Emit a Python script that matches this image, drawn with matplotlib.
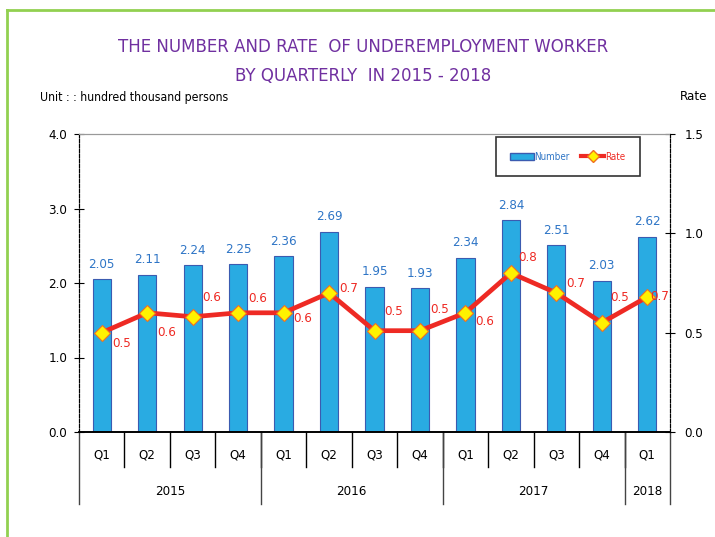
import numpy as np
import matplotlib.pyplot as plt
from matplotlib.lines import Line2D
from matplotlib.patches import Patch
import matplotlib.transforms as mtransforms

# datos
quarters = ['Q1', 'Q2', 'Q3', 'Q4', 'Q1', 'Q2', 'Q3', 'Q4', 'Q1', 'Q2', 'Q3', 'Q4', 'Q1']
years = ['2015', '2016', '2017', '2018']
quarters_per_year = [4, 4, 4, 1]
number = [2.05, 2.11, 2.24, 2.25, 2.36, 2.69, 1.95, 1.93, 2.34, 2.84, 2.51, 2.03, 2.62]
rate = [0.50, 0.60, 0.58, 0.60, 0.60, 0.70, 0.51, 0.51, 0.60, 0.80, 0.70, 0.55, 0.68]
rate_labels = ['0.5', '0.6', '0.6', '0.6', '0.6', '0.7', '0.5', '0.5', '0.6', '0.8', '0.7', '0.5', '0.7']

# offsets de etiquetas de tasa (puntos)
rate_off = [(14, -8), (14, -14), (14, 14), (14, 10), (14, -4), (14, 3),
            (14, 14), (14, 15), (14, -6), (12, 11), (14, 7), (13, 18), (9, 0)]

plt.rcParams['font.family'] = ['DejaVu Sans']
plt.rcParams['font.stretch'] = 'condensed'

fig = plt.figure(figsize=(7.15, 5.37), dpi=100)
ax = fig.add_axes([79/715, 1-432/537, (670-79)/715, 298/537])
ax2 = ax.twinx()

x = np.arange(len(number))
bar_blue = '#29ABE2'
lab_blue = '#2E75C6'
red = '#EE2A24'

ax.bar(x, number, width=0.4, color=bar_blue, edgecolor='#3B5BB0', linewidth=0.8, zorder=2)
for xi, v in zip(x, number):
    ax.annotate(f'{v:.2f}', (xi, v), xytext=(0, 6), textcoords='offset points',
                ha='center', va='bottom', color=lab_blue, fontsize=9.5)

ax2.plot(x, rate, color=red, linewidth=3.4, marker='D', markersize=8,
         markerfacecolor='#FFF200', markeredgecolor='#F07020', markeredgewidth=0.8, zorder=3)
for xi, v, t, off in zip(x, rate, rate_labels, rate_off):
    ax2.annotate(t, (xi, v), xytext=off, textcoords='offset points',
                 ha='center', va='center', color=red, fontsize=9.5)

ax.set_xlim(-0.5, 12.5)
ax.set_ylim(0, 4.0)
ax2.set_ylim(0, 1.5)
ax.set_yticks([0, 1, 2, 3, 4])
ax.set_yticklabels(['0.0', '1.0', '2.0', '3.0', '4.0'], fontsize=9.5)
ax2.set_yticks([0, 0.5, 1.0, 1.5])
ax2.set_yticklabels(['0.0', '0.5', '1.0', '1.5'], fontsize=9.5)
ax.tick_params(axis='y', direction='inout', length=7, width=0.8, pad=5)
ax2.tick_params(axis='y', direction='inout', length=7, width=0.8, pad=7)
ax.set_xticks([])

for a in (ax, ax2):
    a.spines['top'].set_linestyle((0, (1, 1)))
    a.spines['top'].set_color('#999999')
    a.spines['left'].set_linestyle((0, (3, 1.5)))
    a.spines['right'].set_linestyle((0, (3, 1.5)))
    a.spines['left'].set_linewidth(0.8)
    a.spines['right'].set_linewidth(0.8)
    a.spines['bottom'].set_linewidth(1.2)

# eje de categorias en dos niveles
trans = mtransforms.blended_transform_factory(ax.transData, ax.transAxes)
for xi, q in zip(x, quarters):
    ax.text(xi, -0.077, q, transform=trans, ha='center', va='center', fontsize=9.5)
for b in np.arange(0.5, 12, 1):
    ax.plot([b, b], [0, -0.117], transform=trans, color='black', lw=1, clip_on=False)
start = 0
for yr, n in zip(years, quarters_per_year):
    ax.text(start + n/2 - 0.5, -0.2, yr, transform=trans, ha='center', va='center', fontsize=9.5)
    ax.plot([start - 0.5, start - 0.5], [0, -0.24], transform=trans, color='#444444', lw=1, clip_on=False)
    start += n
ax.plot([12.5, 12.5], [0, -0.24], transform=trans, color='#444444', lw=1, clip_on=False)

# leyenda
handles = [Patch(facecolor=bar_blue, edgecolor='#3B5BB0'),
           Line2D([0], [0], color=red, lw=3, marker='D', markersize=6,
                  markerfacecolor='#FFF200', markeredgecolor='#F07020')]
leg = ax.legend(handles, ['Number', 'Rate'], loc='upper left', bbox_to_anchor=(0.705, 0.99),
                ncol=2, fontsize=7, frameon=True, fancybox=False, edgecolor='black',
                handlelength=2.4, columnspacing=1.2, borderpad=1.5, borderaxespad=0,
                handletextpad=0.05)
leg.get_frame().set_linewidth(1.2)
leg.texts[0].set_color(lab_blue)
leg.texts[1].set_color(red)

# titulos
title_kw = dict(ha='center', va='center', color='#7030A0', fontsize=12, fontstretch='normal')
fig.text(363/715, 1-47/537, 'THE NUMBER AND RATE  OF UNDEREMPLOYMENT WORKER', **title_kw)
fig.text(363/715, 1-76/537, 'BY QUARTERLY  IN 2015 - 2018', **title_kw)
fig.text(40/715, 1-97/537, 'Unit : : hundred thousand persons', ha='left', va='center', fontsize=8.8)
fig.text(680/715, 1-97/537, 'Rate', ha='left', va='center', fontsize=9.5)

# marco verde
fig.add_artist(Line2D([7/715, 7/715], [0, 1-10/537], color='#92D050', lw=2))
fig.add_artist(Line2D([7/715, 1], [1-10/537, 1-10/537], color='#92D050', lw=2))

plt.savefig('out.png', dpi=100)
